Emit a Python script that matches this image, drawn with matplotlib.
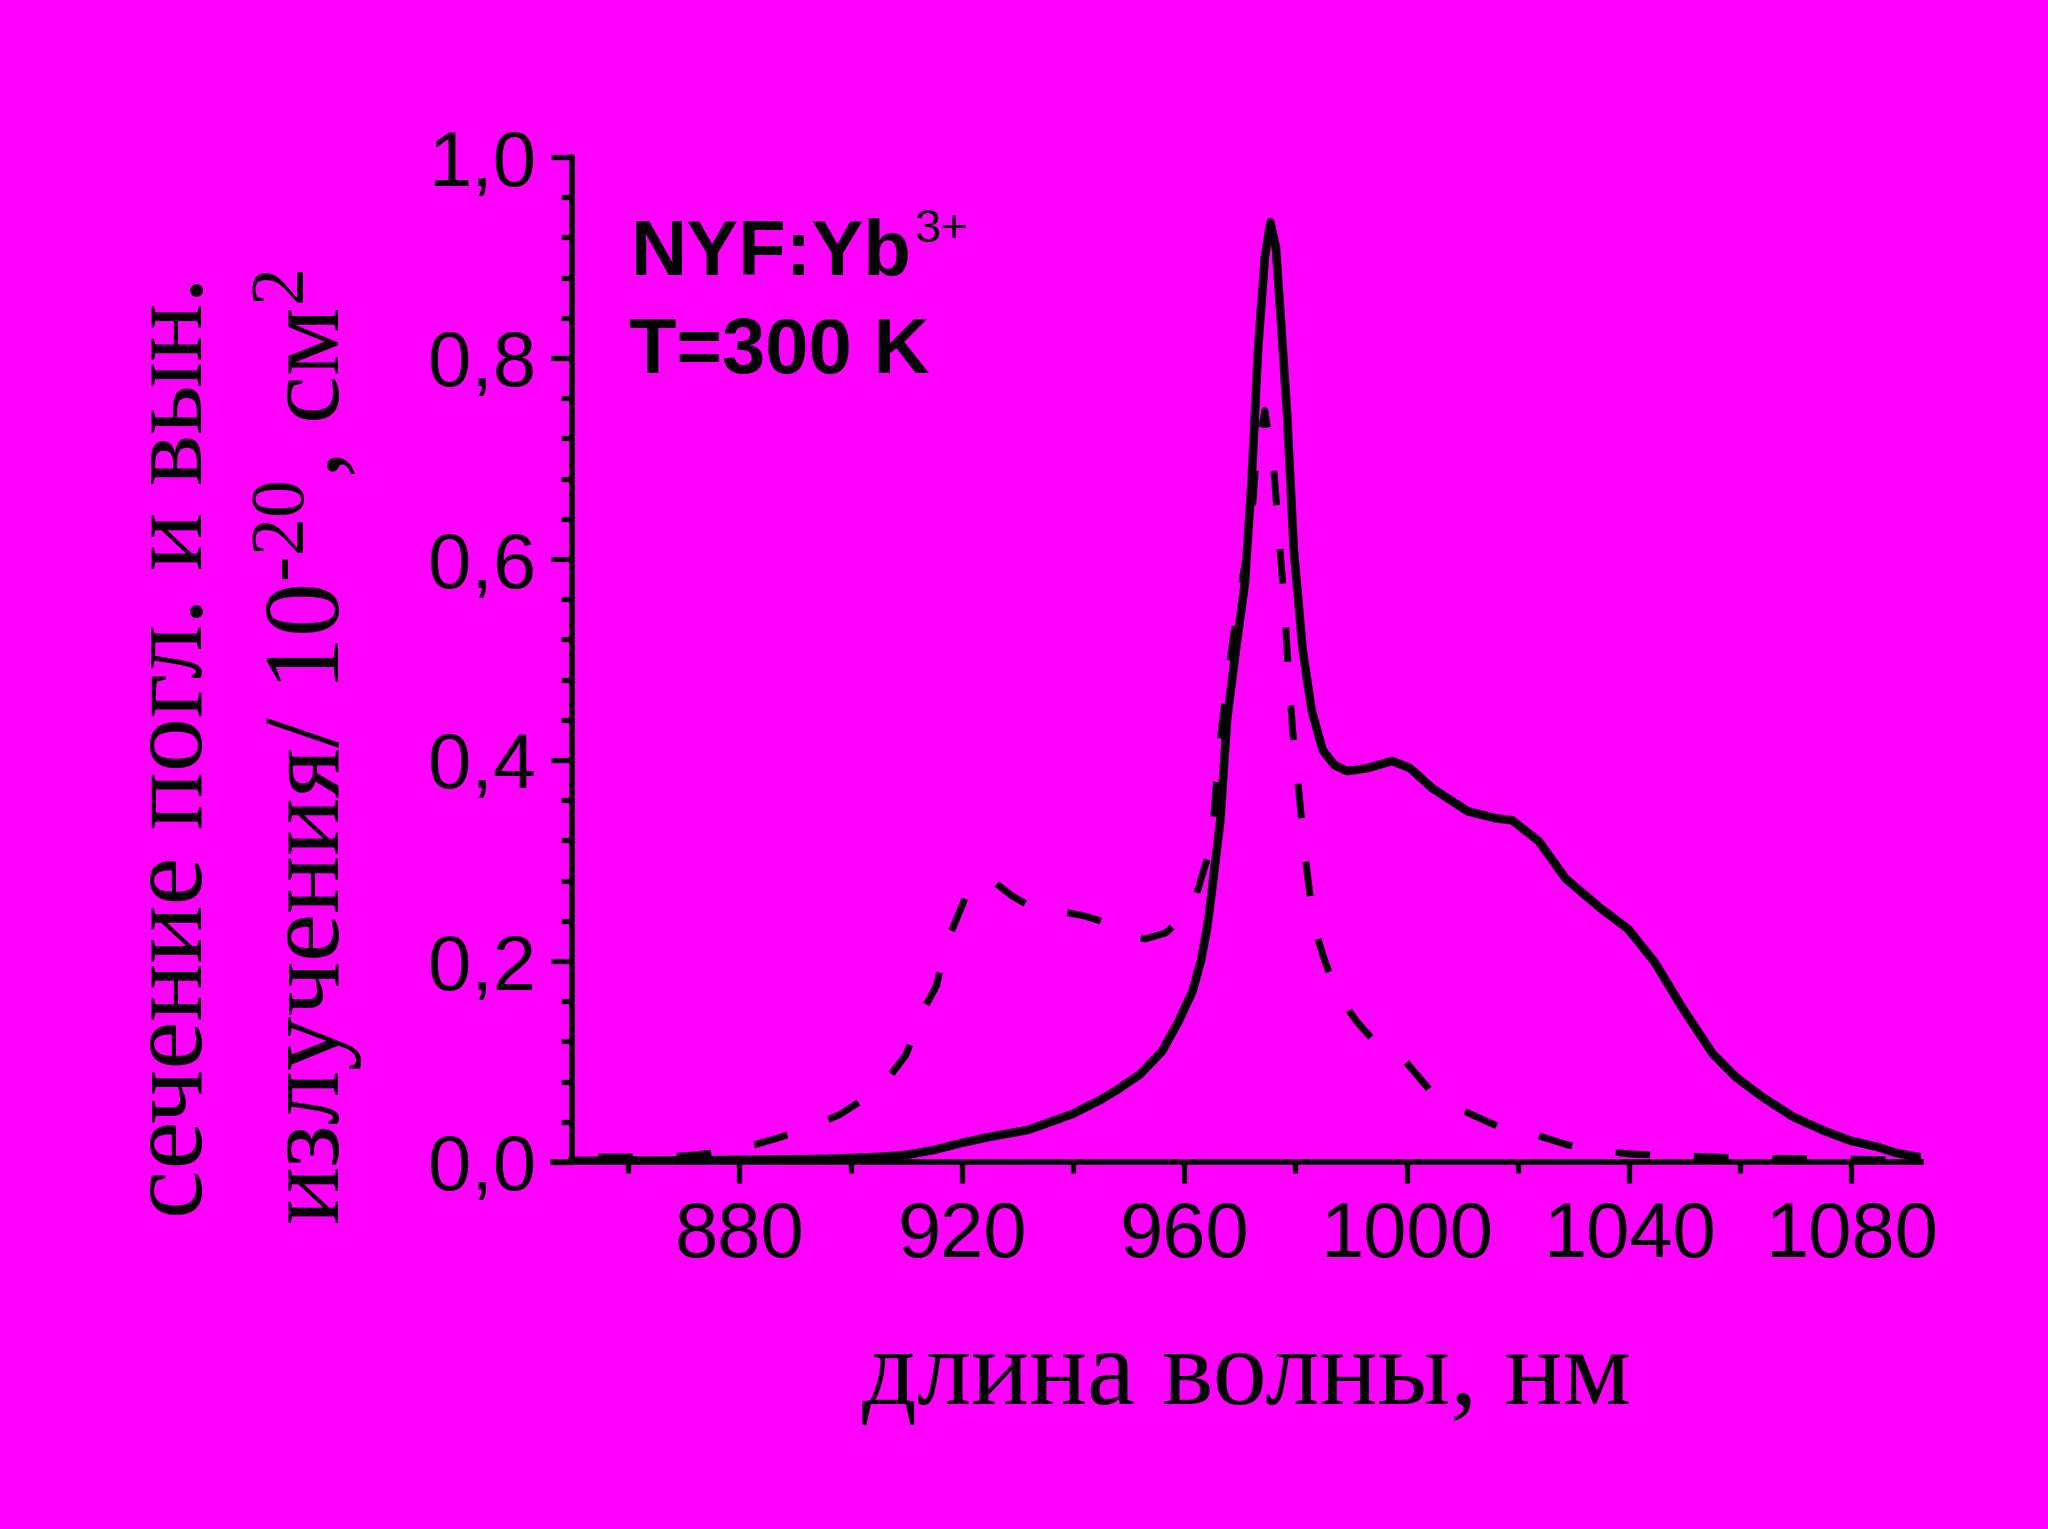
import matplotlib
matplotlib.use("Agg")
import numpy as np
import matplotlib.pyplot as plt
from matplotlib.ticker import MultipleLocator, FuncFormatter

# ---- data ----
emis_x = [850, 880, 895, 905, 910, 915, 920, 925, 932, 940, 945, 948, 952, 956, 959,
          961.5, 963, 964.2, 965.2, 966.5, 967.7, 969.3, 970.9, 972.1, 973.3, 974.5,
          975.5, 976.5, 977.3, 978.5, 979.7, 981.3, 982.9, 984.9, 987, 989.3, 993,
          997.4, 1000.6, 1004.6, 1011, 1016, 1019, 1023.8, 1028.6, 1035, 1039.8,
          1044.6, 1049.4, 1055, 1059.1, 1063.9, 1069.5, 1075.1, 1079.9, 1084.7, 1088, 1092]
emis_y = [0.001, 0.002, 0.003, 0.005, 0.007, 0.012, 0.019, 0.025, 0.032, 0.048, 0.062,
          0.072, 0.087, 0.11, 0.14, 0.17, 0.2, 0.235, 0.28, 0.34, 0.44, 0.51, 0.575,
          0.675, 0.81, 0.9, 0.935, 0.91, 0.845, 0.745, 0.61, 0.51, 0.45, 0.41, 0.395,
          0.389, 0.392, 0.399, 0.392, 0.372, 0.349, 0.342, 0.34, 0.319, 0.282, 0.252,
          0.232, 0.199, 0.155, 0.108, 0.085, 0.065, 0.045, 0.031, 0.021, 0.015, 0.009, 0.005]

abs_x = [850, 860, 870, 877, 882, 887, 892, 898, 903, 907, 910, 913, 915.5, 917, 919,
         921, 923.5, 926, 929, 933, 938, 942, 946, 950, 953, 956.7, 959, 961.5, 963.5,
         964.9, 965.7, 966.7, 968, 969.7, 972, 972.8, 974.5, 976.1, 977.1, 978, 978.7,
         979.5, 980.7, 981.8, 983.3, 985, 987.2, 991, 994.2, 999.8, 1005.8, 1010.6,
         1017.4, 1022.6, 1029, 1034, 1040, 1045, 1060, 1092]
abs_y = [0.005, 0.005, 0.006, 0.01, 0.016, 0.024, 0.033, 0.047, 0.065, 0.085, 0.107,
         0.15, 0.176, 0.215, 0.241, 0.268, 0.283, 0.278, 0.265, 0.252, 0.249, 0.245,
         0.238, 0.225, 0.222, 0.228, 0.24, 0.253, 0.29, 0.315, 0.37, 0.43, 0.49, 0.555,
         0.63, 0.69, 0.748, 0.69, 0.62, 0.556, 0.492, 0.43, 0.364, 0.302, 0.236, 0.205,
         0.17, 0.14, 0.12, 0.1, 0.061, 0.05, 0.033, 0.028, 0.017, 0.012, 0.008, 0.007,
         0.004, 0.002]

x_ticks = [880, 920, 960, 1000, 1040, 1080]
y_ticks = [0.0, 0.2, 0.4, 0.6, 0.8, 1.0]

xlabel = "длина волны, нм"
ylabel1 = "сечение погл. и вын."
ylabel2 = r"излучения/ 10$^{\text{-20}}$, см$^{2}$"
label1 = "NYF:Yb"
label1_sup = "3+"
label2 = "T=300 K"

BG = "#FF00FF"
plt.rcParams["mathtext.fontset"] = "custom"
plt.rcParams["mathtext.rm"] = "Liberation Serif"
plt.rcParams["mathtext.it"] = "Liberation Serif"
plt.rcParams["mathtext.bf"] = "Liberation Serif:bold"

DPI = 100
fig = plt.figure(figsize=(20.48, 15.29), dpi=DPI, facecolor=BG)
ax = fig.add_axes([553 / 2048, 1 - 1162 / 1529, (1921 - 553) / 2048, (1162 - 157) / 1529])
ax.set_facecolor(BG)
ax.set_xlim(846.5, 1092.5)
ax.set_ylim(0, 1.0)

ax.plot(emis_x, emis_y, color="black", lw=6.2, solid_joinstyle="round")

# dashed line: choose the dash phase so that a dash sits on the absorption peak
dash_lw = 5.0
dash_on, dash_off = 5.0, 6.3
pts = ax.transData.transform(np.column_stack([abs_x, abs_y]))
seg = np.hypot(np.diff(pts[:, 0]), np.diff(pts[:, 1]))
cum = np.concatenate([[0], np.cumsum(seg)]) * 72.0 / DPI / dash_lw
ipk = int(np.argmax(abs_y))
period = dash_on + dash_off
offset = (dash_on / 2 - cum[ipk]) % period
ax.plot(abs_x, abs_y, color="black", lw=dash_lw,
        linestyle=(offset, (dash_on, dash_off)), dash_capstyle="butt")

ax.spines["top"].set_visible(False)
ax.spines["right"].set_visible(False)
ax.spines["left"].set_position(("data", 850))
for s in ("left", "bottom"):
    ax.spines[s].set_linewidth(4.0)
    ax.spines[s].set_color("black")

ax.set_xticks(x_ticks)
ax.xaxis.set_minor_locator(MultipleLocator(20))
ax.set_yticks(y_ticks)
ax.yaxis.set_minor_locator(MultipleLocator(0.04))
ax.yaxis.set_major_formatter(FuncFormatter(lambda v, p: f"{v:.1f}".replace(".", ",")))

tick_font = "Liberation Sans"
ax.tick_params(axis="both", which="major", length=15, width=3.8, color="black",
               labelsize=56, direction="out")
ax.tick_params(axis="both", which="minor", length=8, width=3.8, color="black", direction="out")
ax.tick_params(axis="x", which="major", pad=12)
ax.tick_params(axis="y", which="major", pad=11)
for lab in ax.get_xticklabels() + ax.get_yticklabels():
    lab.set_fontfamily(tick_font)

# annotation text
t1 = ax.text(631 / 2048, 1 - 275 / 1529, label1, transform=fig.transFigure,
             fontsize=56, fontweight="bold", family="Liberation Sans",
             ha="left", va="baseline")
ax.text(629 / 2048, 1 - 373 / 1529, label2, transform=fig.transFigure,
        fontsize=56, fontweight="bold", family="Liberation Sans",
        ha="left", va="baseline")
fig.canvas.draw()
bb = t1.get_window_extent(renderer=fig.canvas.get_renderer())
fig.text((bb.x1 + 2) / 2048, 1 - 242 / 1529, label1_sup, fontsize=34,
         family="Liberation Sans", ha="left", va="baseline")

# axis labels
serif = "Liberation Serif"
fig.text(1247 / 2048, 1 - 1404 / 1529, xlabel, fontsize=78, family=serif,
         ha="center", va="baseline")
fig.text(202 / 2048, 1 - 747 / 1529, ylabel1, fontsize=78, family=serif,
         rotation=90, rotation_mode="anchor", ha="center", va="baseline")
fig.text(340 / 2048, 1 - 747 / 1529, ylabel2, fontsize=78, family=serif,
         rotation=90, rotation_mode="anchor", ha="center", va="baseline")

fig.savefig("out.png", dpi=DPI, facecolor=BG)
